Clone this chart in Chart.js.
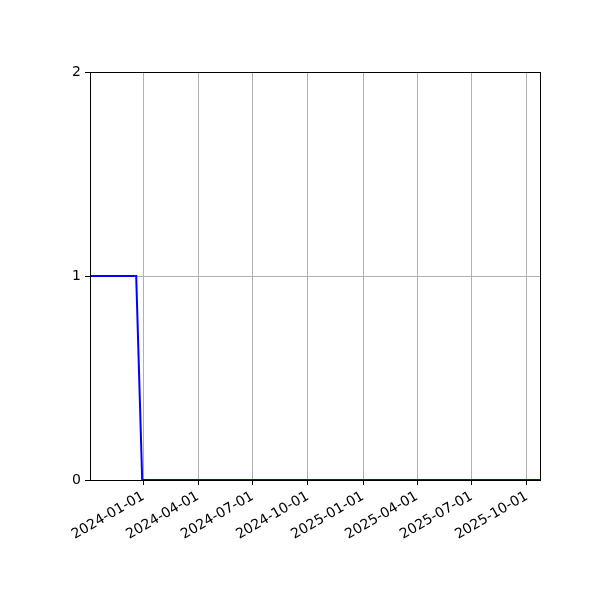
<!DOCTYPE html>
<html>
<head>
<meta charset="utf-8">
<script src="https://cdn.jsdelivr.net/npm/chart.js@4/dist/chart.umd.min.js"></script>
<style>
    body { margin: 0; background: #fff; }
    #chart { display: block; }
</style>
</head>
<body>
<canvas id="chart" width="600" height="600"></canvas>
<script>
// Data
const dates = ['2023-10-04', '2023-12-20', '2023-12-30', '2025-10-23'];
const values = [1, 1, 0, 0];
const xTickLabels = ['2024-01-01', '2024-04-01', '2024-07-01', '2024-10-01',
    '2025-01-01', '2025-04-01', '2025-07-01', '2025-10-01'];
const yTicks = [0, 1, 2];
const xRange = ['2023-10-04', '2025-10-23'];

// Dates -> days since epoch (linear x axis, no date adapter available)
function toDay(s) {
    return Date.parse(s + 'T00:00:00Z') / 86400000;
}
function fromDay(v) {
    return new Date(Math.round(v) * 86400000).toISOString().slice(0, 10);
}

// Draw the top/right spines like a matplotlib box
const boxPlugin = {
    id: 'box',
    afterDraw(chart) {
        const { ctx, chartArea: a } = chart;
        ctx.save();
        ctx.strokeStyle = '#000';
        ctx.lineWidth = 1;
        ctx.strokeRect(a.left + 0.5, a.top + 0.5, a.right - a.left, a.bottom - a.top);
        ctx.restore();
    }
};

const font = { family: 'DejaVu Sans', size: 14 };

new Chart(document.getElementById('chart').getContext('2d'), {
    type: 'line',
    data: {
        datasets: [{
            data: dates.map((d, i) => ({ x: toDay(d), y: values[i] })),
            borderColor: '#0000ff',
            borderWidth: 2,
            pointRadius: 0,
            tension: 0,
            clip: false
        }]
    },
    options: {
        responsive: false,
        devicePixelRatio: 1,
        animation: false,
        layout: { padding: { left: 0, top: 72, right: 60, bottom: 0 } },
        plugins: { legend: { display: false }, tooltip: { enabled: false } },
        scales: {
            x: {
                type: 'linear',
                min: toDay(xRange[0]),
                max: toDay(xRange[1]),
                afterBuildTicks: scale => {
                    scale.ticks = xTickLabels.map(d => ({ value: toDay(d) }));
                },
                afterFit: scale => { scale.height = 120; },
                ticks: {
                    autoSkip: false,
                    minRotation: 30,
                    maxRotation: 30,
                    padding: 3,
                    color: '#000',
                    font: font,
                    callback: v => fromDay(v)
                },
                grid: {
                    color: '#b0b0b0',
                    lineWidth: 1,
                    tickColor: '#000',
                    tickLength: 5
                },
                border: { color: '#000', width: 1 }
            },
            y: {
                min: 0,
                max: 2,
                afterBuildTicks: scale => {
                    scale.ticks = yTicks.map(v => ({ value: v }));
                },
                afterFit: scale => { scale.width = 90; },
                ticks: {
                    padding: 4,
                    color: '#000',
                    font: font
                },
                grid: {
                    color: '#b0b0b0',
                    lineWidth: 1,
                    tickColor: '#000',
                    tickLength: 5
                },
                border: { color: '#000', width: 1 }
            }
        }
    },
    plugins: [boxPlugin]
});
</script>
</body>
</html>
